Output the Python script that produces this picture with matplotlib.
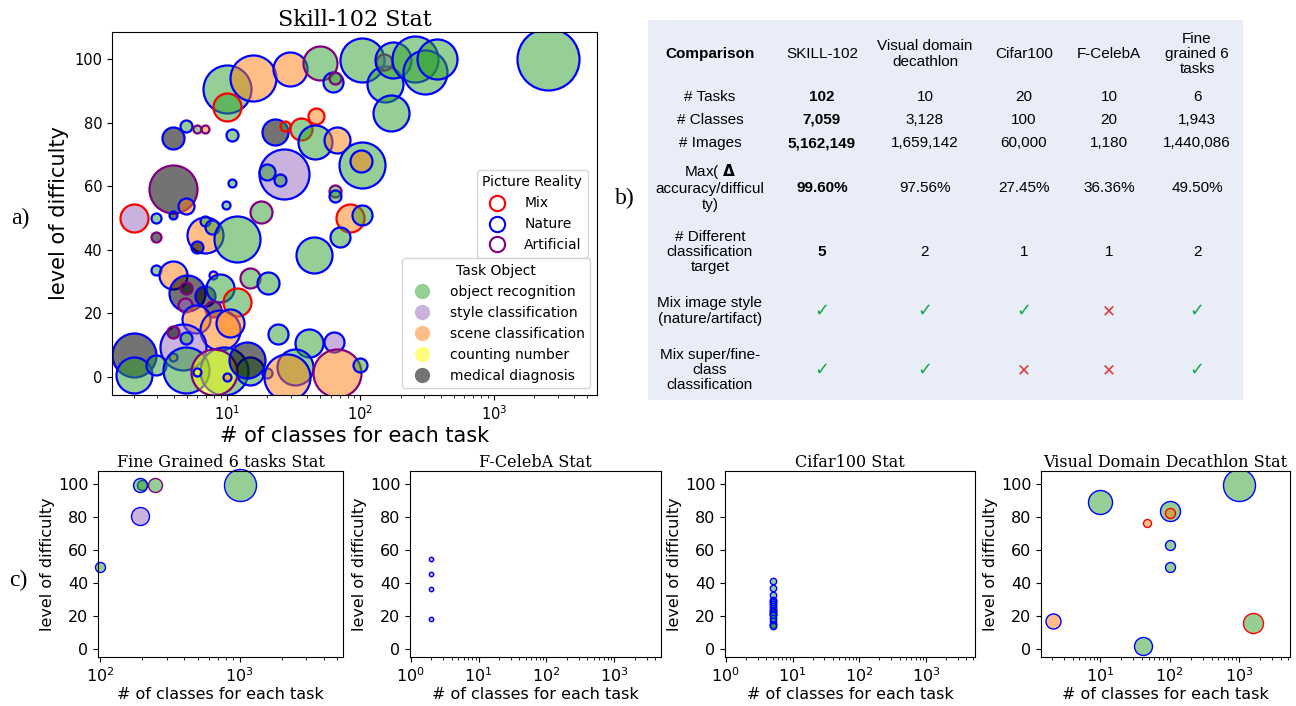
import matplotlib
matplotlib.use("Agg")
import matplotlib.pyplot as plt
from matplotlib.lines import Line2D
from matplotlib.colors import to_rgba

W, H = 1296, 706

# ---- Skill-102 tasks: classes, difficulty, bubble radius, task object, picture reality
sk_classes = [10, 10, 15.7, 29.7, 49.7, 62, 65, 4.93, 5.96, 6.85, 3.94, 10.9, 22.9, 27, 35.8, 46.4,
              45.5, 66.6, 26.7, 20, 25, 10.9, 64, 65, 3.94, 4.93, 3.94, 9.8, 18, 2, 2.95, 83, 102,
              102, 152, 150, 175, 256, 304, 373, 169, 2530, 102, 101, 2.95, 6.84, 6.84, 7.7, 5.97,
              11.9, 44.9, 70, 2.95, 3.94, 5.0, 4.93, 4.85, 6.85, 7.85, 8.9, 11.9, 14.9, 20.3, 7.85,
              5.86, 8.9, 10.5, 4.7, 3.94, 4.93, 3.94, 2, 2, 2.95, 4.93, 9.5, 15, 8, 6, 14.1, 20,
              24.1, 41, 63, 32.3, 28, 66.8, 100, 10]
sk_difficulty = [90.6, 85, 94, 97, 98.7, 92.8, 94, 79, 78, 78, 75, 76, 77, 79, 78, 82,
                 74, 74.5, 63.8, 64.5, 62, 61, 58.5, 57, 59, 53.8, 51, 54, 52, 50, 50, 50, 51,
                 99.7, 92, 99, 99.7, 100, 96, 100, 83, 100, 66.7, 68, 44, 44.6, 49, 47, 41,
                 43.4, 38.4, 44, 33.6, 32, 26.4, 28, 22.6, 25.5, 32, 28, 23.6, 31, 29.6, 21.4,
                 18.2, 14.8, 17, 9.4, 14, 12.3, 6.3, 7, 0.6, 3.8, 2.2, 2, 2, 1.6, 1.6, 5.3, 1.3,
                 13.5, 10.7, 11, 3.1, 0, 1.3, 3.8, 0]
sk_bubble = [24, 14, 23, 17, 17, 10, 6, 6, 4, 4, 11, 6, 13, 5, 11, 8,
             17, 13, 25, 8, 6, 4, 6, 6, 24, 8, 4, 4, 11, 14, 5, 14, 10,
             22, 18, 8, 18, 23, 22, 20, 18, 31, 23, 11, 5, 18, 5, 7, 6,
             23, 18, 10, 5, 14, 18, 6, 7, 10, 4, 14, 14, 10, 11, 8,
             14, 20, 14, 23, 6, 6, 4, 22, 18, 10, 23, 24, 14, 23, 4, 18, 5,
             10, 14, 10, 18, 23, 24, 7, 4]
sk_task = ["obj", "obj", "scene", "scene", "obj", "obj", "obj", "obj", "obj", "scene", "med", "obj",
           "med", "obj", "obj", "scene", "obj", "scene", "style", "obj", "obj", "obj", "obj", "obj",
           "med", "scene", "med", "obj", "obj", "style", "obj", "scene", "obj",
           "obj", "obj", "style", "obj", "obj", "obj", "obj", "obj", "obj", "obj", "scene", "med",
           "scene", "obj", "obj", "med", "obj", "obj", "obj", "obj", "scene", "med", "med", "style",
           "med", "scene", "obj", "obj", "obj", "obj", "med", "scene", "scene", "scene", "style",
           "med", "obj", "scene", "med", "obj", "obj", "obj", "obj", "obj", "count", "count", "med",
           "obj", "obj", "obj", "style", "obj", "scene", "scene", "obj", "scene"]
sk_real = ["nature", "mix", "nature", "nature", "art", "nature", "art", "nature", "art", "art",
           "nature", "nature", "nature", "mix", "mix", "mix", "nature", "nature", "nature", "nature",
           "nature", "nature", "art", "nature", "art", "nature", "nature", "nature", "art", "mix",
           "nature", "mix", "nature",
           "nature", "nature", "art", "nature", "nature", "nature", "nature", "nature", "nature",
           "nature", "nature", "art", "nature", "nature", "nature", "nature", "nature", "nature",
           "nature", "nature", "nature", "nature", "art", "art", "nature", "nature", "nature", "mix",
           "art", "nature", "art", "nature", "nature", "nature", "nature", "art", "nature", "nature",
           "nature", "nature", "nature", "nature", "nature", "nature", "art", "nature", "nature",
           "nature", "nature", "nature", "nature", "nature", "nature", "art", "nature", "nature"]

# ---- other benchmarks
fg_classes = [101, 193, 200, 193, 247, 1000]
fg_difficulty = [49.7, 80.6, 99.4, 99.4, 99.4, 99.4]
fg_bubble = [5, 9, 5, 7, 7, 16]
fg_task = ["obj", "style", "obj", "obj", "obj", "obj"]
fg_real = ["nature", "nature", "nature", "nature", "art", "nature"]

cb_classes = [2, 2, 2, 2]
cb_difficulty = [54.5, 45.5, 36.4, 18.2]

cf_classes = [5] * 20
cf_difficulty = [41.5, 37, 33, 30, 29, 28.5, 27.5, 26, 25, 24, 23, 22.5, 21.5, 21, 20.5,
                 19, 17, 15.5, 14.5, 13.7]

vd_classes = [2.1, 10, 41.6, 47.5, 100, 100, 100, 100, 1000, 1590]
vd_difficulty = [17, 89, 1.8, 76.4, 83.6, 82.4, 63, 49.7, 99.4, 15.8]
vd_bubble = [7.5, 12, 9, 4, 10, 5, 5, 5, 16, 10]
vd_task = ["scene", "obj", "obj", "scene", "obj", "scene", "obj", "obj", "obj", "obj"]
vd_real = ["nature", "nature", "nature", "mix", "nature", "mix", "nature", "nature", "nature", "mix"]

task_names = ["object recognition", "style classification", "scene classification",
              "counting number", "medical diagnosis"]
task_keys = ["obj", "style", "scene", "count", "med"]
task_colors = {"obj": to_rgba("tab:green", 0.5), "style": to_rgba("tab:purple", 0.5),
               "scene": to_rgba("tab:orange", 0.5), "count": to_rgba("yellow", 0.5),
               "med": to_rgba("black", 0.55)}
real_names = ["Mix", "Nature", "Artificial"]
real_keys = ["mix", "nature", "art"]
real_colors = {"mix": "red", "nature": "blue", "art": "purple"}

# table
tbl_cols = ["SKILL-102", "Visual domain\ndecathlon", "Cifar100", "F-CelebA", "Fine\ngrained 6\ntasks"]
tbl_rows = ["# Tasks", "# Classes", "# Images", "Max( $\\mathbf{\\Delta}$\naccuracy/difficul\nty)",
            "# Different\nclassification\ntarget", "Mix image style\n(nature/artifact)",
            "Mix super/fine-\nclass\nclassification"]
tbl_vals = [["102", "10", "20", "10", "6"],
            ["7,059", "3,128", "100", "20", "1,943"],
            ["5,162,149", "1,659,142", "60,000", "1,180", "1,440,086"],
            ["99.60%", "97.56%", "27.45%", "36.36%", "49.50%"],
            ["5", "2", "1", "1", "2"],
            ["yes", "yes", "yes", "no", "yes"],
            ["yes", "yes", "no", "no", "yes"]]


def size_of(r):
    # bubble radius in pixels -> marker area in points^2
    return (2 * r * 72 / 100) ** 2


def bubbles(ax, xs, ys, rs, tasks, reals, lw, clip=True):
    for x, y, r, t, rl in zip(xs, ys, rs, tasks, reals):
        ax.scatter(x, y, s=size_of(r), facecolor=task_colors[t], edgecolor=real_colors[rl],
                   linewidths=lw, clip_on=clip)


fig = plt.figure(figsize=(W / 100, H / 100), dpi=100)

# ---------------- a) main plot
ax = fig.add_axes([112 / W, 1 - 395 / H, 485 / W, 363 / H])
bubbles(ax, sk_classes, sk_difficulty, sk_bubble, sk_task, sk_real, 1.6)
ax.set_xscale("log")
ax.set_xlim(1.38, 5900)
ax.set_ylim(-5.7, 108.5)
ax.set_yticks([0, 20, 40, 60, 80, 100])
ax.tick_params(labelsize=10.5)
ax.set_title("Skill-102 Stat", family="DejaVu Serif", fontsize=16, pad=4)
ax.set_xlabel("# of classes for each task", fontsize=15, labelpad=2)
ax.set_ylabel("level of difficulty", fontsize=15)

h1 = [Line2D([], [], ls="", marker="o", ms=11, mfc="none", mec=real_colors[k], mew=1.5)
      for k in real_keys]
leg1 = ax.legend(h1, real_names, title="Picture Reality", loc="upper right",
                 bbox_to_anchor=(0.981, 0.62), borderaxespad=0, fontsize=10, title_fontsize=10,
                 handletextpad=1.0, labelspacing=0.5)
ax.add_artist(leg1)
h2 = [Line2D([], [], ls="", marker="o", ms=11, mfc=task_colors[k], mec="none")
      for k in task_keys]
ax.legend(h2, task_names, title="Task Object", loc="lower right", fontsize=10,
          title_fontsize=10, handletextpad=1.0, labelspacing=0.5)

# ---------------- c) bottom plots
bottom = 1 - 657 / H
hb = 186 / H


def small_axes(left_px, right_px, title, xlim):
    a = fig.add_axes([left_px / W, bottom, (right_px - left_px) / W, hb])
    a.set_xscale("log")
    a.set_xlim(*xlim)
    a.set_ylim(-4.8, 108)
    a.set_yticks([0, 20, 40, 60, 80, 100])
    a.tick_params(labelsize=11.5)
    a.set_title(title, family="DejaVu Serif", fontsize=11.5, pad=3)
    a.set_xlabel("# of classes for each task", fontsize=11.5, labelpad=1)
    a.set_ylabel("level of difficulty", fontsize=11.5, labelpad=2)
    return a


a1 = small_axes(98, 343, "Fine Grained 6 tasks Stat", (97, 5500))
bubbles(a1, fg_classes, fg_difficulty, fg_bubble, fg_task, fg_real, 1.0, clip=False)

a2 = small_axes(410, 661, "F-CelebA Stat", (0.97, 4900))
a2.scatter(cb_classes, cb_difficulty, s=size_of(2.2), facecolor=task_colors["style"],
           edgecolor="blue", linewidths=1.0)

a3 = small_axes(725, 975, "Cifar100 Stat", (0.97, 5400))
a3.scatter(cf_classes, cf_difficulty, s=size_of(3.2), facecolor=task_colors["obj"],
           edgecolor="blue", linewidths=1.0)

a4 = small_axes(1041, 1290, "Visual Domain Decathlon Stat", (1.4, 5400))
bubbles(a4, vd_classes, vd_difficulty, vd_bubble, vd_task, vd_real, 1.0)

# ---------------- b) comparison table
tb = fig.add_axes([648 / W, 1 - 400 / H, 595 / W, 380 / H])
tb.set_xlim(648, 1243)
tb.set_ylim(400, 20)
tb.axis("off")
tb.add_patch(plt.Rectangle((648, 20), 595, 380, color="#e8edf7", zorder=0))

col_x = [710, 822, 925, 1024, 1109, 1197]
head_y = 54
row_y = [97, 120, 143, 188, 252, 311, 370]
row_label_y = [97, 120, 143, 187, 252, 311, 370]
tfont = dict(family=["Liberation Sans", "DejaVu Sans"], fontsize=11, ha="center",
             va="center", linespacing=1.12)

tb.text(col_x[0], head_y, "Comparison", fontweight="bold", **tfont)
for cx, name in zip(col_x[1:], tbl_cols):
    tb.text(cx, head_y, name, **tfont)
for i, (lab, vals) in enumerate(zip(tbl_rows, tbl_vals)):
    tb.text(col_x[0], row_label_y[i], lab, **tfont)
    for j, v in enumerate(vals):
        if v == "yes":
            tb.text(col_x[j + 1], row_y[i], "\u2713", color="#19a648", family="DejaVu Sans",
                    fontsize=13, ha="center", va="center")
        elif v == "no":
            tb.text(col_x[j + 1], row_y[i], "\u2715", color="#e03a3a", family="DejaVu Sans",
                    fontsize=12, ha="center", va="center")
        else:
            tb.text(col_x[j + 1], row_y[i], v, fontweight="bold" if j == 0 else "normal", **tfont)

# panel letters
for lx, ly, lab in [(20, 218, "a)"), (625, 198, "b)"), (18, 580, "c)")]:
    fig.text(lx / W, 1 - ly / H, lab, family="Liberation Serif", fontsize=17,
             ha="center", va="center")

plt.savefig("out.png", dpi=100)
